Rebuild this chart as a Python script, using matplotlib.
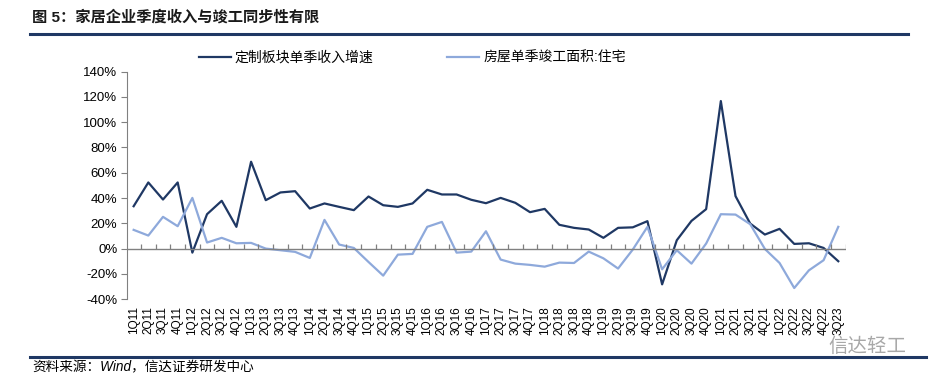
import numpy as np
import matplotlib
matplotlib.use("Agg")
import matplotlib.pyplot as plt

plt.rcParams['font.family'] = ['Liberation Sans', 'Noto Sans CJK SC', 'DejaVu Sans']

quarters = ['1Q11', '2Q11', '3Q11', '4Q11', '1Q12', '2Q12', '3Q12', '4Q12',
            '1Q13', '2Q13', '3Q13', '4Q13', '1Q14', '2Q14', '3Q14', '4Q14',
            '1Q15', '2Q15', '3Q15', '4Q15', '1Q16', '2Q16', '3Q16', '4Q16',
            '1Q17', '2Q17', '3Q17', '4Q17', '1Q18', '2Q18', '3Q18', '4Q18',
            '1Q19', '2Q19', '3Q19', '4Q19', '1Q20', '2Q20', '3Q20', '4Q20',
            '1Q21', '2Q21', '3Q21', '4Q21', '1Q22', '2Q22', '3Q22', '4Q22',
            '3Q23']

# 定制板块单季收入增速 (%)
revenue = [33.5, 52.3, 38.8, 52.3, -3.2, 27.2, 37.8, 17.2,
           68.7, 38.3, 44.4, 45.4, 31.7, 35.7, 33.0, 30.4,
           41.2, 34.3, 33.0, 35.7, 46.5, 42.8, 42.8, 38.6,
           35.9, 40.1, 36.2, 28.8, 31.4, 18.8, 16.4, 15.1,
           8.5, 16.4, 16.8, 21.7, -28.3, 6.6, 21.9, 31.2,
           116.7, 41.5, 19.8, 11.1, 15.6, 3.7, 4.2, 0.5,
           -10.0]

# 房屋单季竣工面积:住宅 (%)
completion = [14.8, 10.3, 25.1, 17.7, 40.1, 4.8, 8.5, 4.2,
              4.5, 0.0, -1.3, -2.6, -7.4, 22.7, 3.2, 0.5,
              -10.6, -21.4, -4.8, -4.2, 17.2, 21.1, -3.2, -2.4,
              13.7, -8.7, -11.9, -12.9, -14.3, -11.1, -11.4, -2.4,
              -7.7, -15.8, -0.8, 17.2, -16.4, -1.3, -11.9, 4.0,
              27.2, 26.9, 19.3, -0.3, -11.4, -31.2, -17.2, -9.2,
              17.2]

dark = '#1F3864'
light = '#8EA9DB'
grey = '#808080'

fig = plt.figure(figsize=(9.48, 3.87), dpi=100)
ax = fig.add_axes([0.134, 0.227, 0.758, 0.588])

x = np.arange(len(quarters))
ax.plot(x, revenue, color=dark, lw=1.6, label='定制板块单季收入增速')
ax.plot(x, completion, color=light, lw=1.6, label='房屋单季竣工面积:住宅')

ax.set_ylim(-40, 140)
ax.set_xlim(-0.45, len(quarters) - 0.5)
ax.set_yticks(np.arange(-40, 141, 20))
ax.set_yticklabels([f'{v}%' for v in range(-40, 141, 20)])
ax.set_xticks(x)
ax.set_xticklabels(quarters, rotation=90)

for s in ['top', 'right', 'bottom']:
    ax.spines[s].set_visible(False)
ax.spines['left'].set_color(grey)
ax.tick_params(axis='y', colors=grey, length=4, labelsize=9.5, labelcolor='black', pad=3)
ax.tick_params(axis='x', length=0, labelsize=8.5, pad=5)

# zero line with small category ticks
ax.axhline(0, color=grey, lw=1)
ax.vlines(np.arange(0.5, len(quarters), 1), 0, 3.5, color=grey, lw=0.9)

ax.legend(loc='lower left', bbox_to_anchor=(0.09, 1.0), ncol=2, frameon=False,
          fontsize=10, handlelength=2.3, handletextpad=0.3, columnspacing=5.3,
          borderaxespad=0.1)

fig.text(0.034, 0.955, '图 5：家居企业季度收入与竣工同步性有限', fontsize=11,
         fontweight='bold', color='#1a1a1a', ha='left', va='center')
fig.add_artist(plt.Line2D([0.032, 0.958], [0.912, 0.912], color=dark, lw=2.2))
fig.add_artist(plt.Line2D([0.032, 0.977], [0.078, 0.078], color=dark, lw=2.2))
fig.text(0.034, 0.052, '资料来源：Wind，信达证券研发中心', fontsize=9.8,
         style='italic', ha='left', va='center')
fig.text(0.915, 0.105, '信达轻工', fontsize=14, color='#a8a8a8', ha='center', va='center')

fig.savefig('out.png', dpi=100)
